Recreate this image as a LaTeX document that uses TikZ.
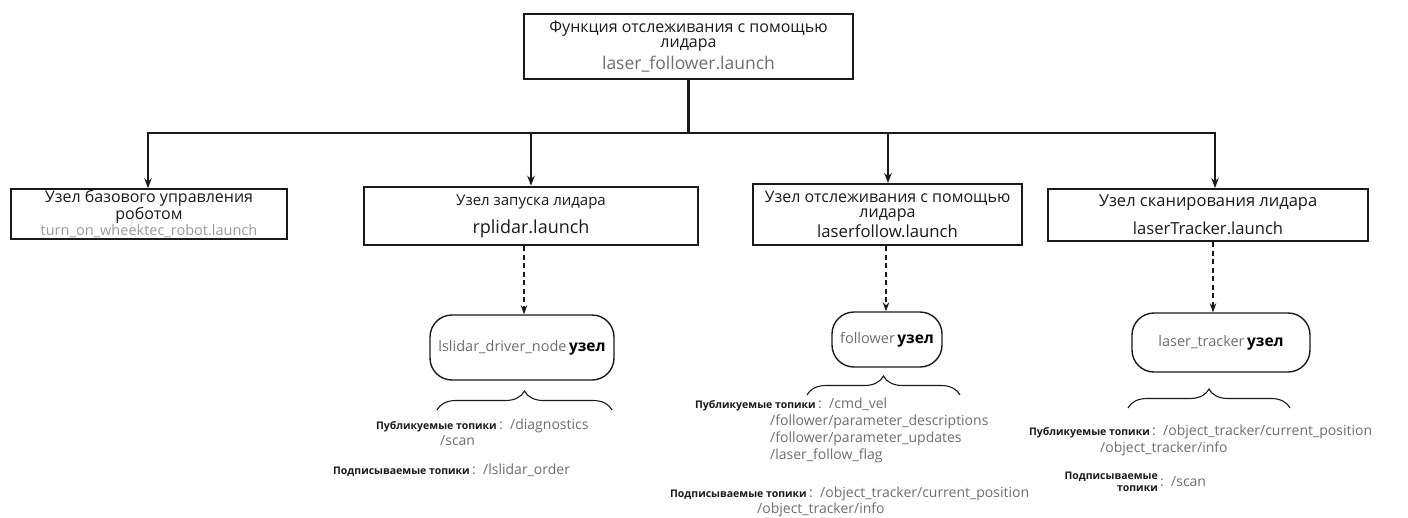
\documentclass[tikz,border=0pt]{standalone}
\usepackage{fontspec}
\setmainfont{Open Sans}
\usetikzlibrary{arrows.meta,decorations.pathreplacing}
\definecolor{ink}{HTML}{1A1A1A}
\definecolor{soft}{HTML}{6E6E6E}
\definecolor{pale}{HTML}{9A9A9A}
\begin{document}
\begin{tikzpicture}[x=1pt,y=-1pt,
  box/.style={draw=ink, line width=2pt, inner sep=0pt, align=center, text=ink,
    font=\fontsize{16}{15}\selectfont},
  pill/.style={draw=ink, line width=1.4pt, rounded corners=22pt, inner sep=0pt, align=center,
    font=\fontsize{14.5}{16}\selectfont},
  wire/.style={draw=ink, line width=2.2pt},
  feed/.style={wire, -{Stealth[length=10pt,width=7.5pt]}},
  spawn/.style={draw=ink, line width=1.3pt, dash pattern=on 5pt off 3.5pt, -{Stealth[length=9pt,width=6.5pt]}},
  curly/.style={draw=ink, line width=1.1pt, decorate, decoration={brace, amplitude=19pt}},
  tag/.style={inner sep=0pt, font=\fontsize{10.5}{12}\selectfont\bfseries, text=ink},
  val/.style={inner sep=0pt, font=\fontsize{14}{16}\selectfont, text=soft},
]
\useasboundingbox (0,0) rectangle (1408,517);

% launch file at the top
\node[box, minimum width=329pt, minimum height=65pt] (top) at (688.5,46.5)
  {Функция отслеживания с помощью\\лидара\\[4pt]{\color{soft}\fontsize{17.5}{16}\selectfont laser\_follower.launch}};

% launch files started by it
\node[box, line width=1.5pt, minimum width=276pt, minimum height=50pt] (b1) at (149,214)
  {Узел базового управления\\роботом\\[1pt]{\color{pale}\fontsize{14.5}{14}\selectfont turn\_on\_wheektec\_robot.launch}};
\node[box, line width=2.6pt, minimum width=334pt, minimum height=58pt, font=\fontsize{15}{15}\selectfont] (b2) at (531,216)
  {Узел запуска лидара\\[10pt]{\fontsize{18}{16}\selectfont rplidar.launch}};
\node[box, minimum width=269pt, minimum height=61pt] (b3) at (887.5,214.5)
  {Узел отслеживания с помощью\\лидара\\[2pt]{\fontsize{16.7}{16}\selectfont laserfollow.launch}};
\node[box, minimum width=320pt, minimum height=52pt, font=\fontsize{16.5}{15}\selectfont] (b4) at (1208,215)
  {Узел сканирования лидара\\[10pt]{\fontsize{16.6}{16}\selectfont laserTracker.launch}};

% bus from the top file to the four launch files
\coordinate (a1) at (148,133);
\coordinate (a2) at (531,133);
\coordinate (a3) at (888,133);
\coordinate (a4) at (1215,133);
\draw[wire] (top.south) -- (top.south |- a1);
\draw[wire, line cap=rect] (a1) -- (a4);
\draw[feed] (a1) -- (a1 |- b1.north);
\draw[feed] (a2) -- (a2 |- b2.north);
\draw[feed] (a3) -- (a3 |- b3.north);
\draw[feed] (a4) -- (a4 |- b4.north);

% ROS nodes
\node[pill, minimum width=184pt, minimum height=65pt] (n2) at (522,347.5)
  {{\color{soft}lslidar\_driver\_node}\,{\fontsize{15.5}{16}\selectfont\bfseries узел}};
\node[pill, minimum width=110pt, minimum height=55pt] (n3) at (887,339.5)
  {{\color{soft}follower}\,{\fontsize{15.5}{16}\selectfont\bfseries узел}};
\node[pill, minimum width=178pt, minimum height=59pt] (n4) at (1221,342.5)
  {{\color{soft}laser\_tracker}\,{\fontsize{15.5}{16}\selectfont\bfseries узел}};

\coordinate (d2) at (524,0);
\coordinate (d3) at (886,0);
\coordinate (d4) at (1213,0);
\draw[spawn] (d2 |- b2.south) -- (d2 |- n2.north);
\draw[spawn] (d3 |- b3.south) -- (d3 |- n3.north);
\draw[spawn] (d4 |- b4.south) -- (d4 |- n4.north);

% braces under the nodes
\draw[curly] (437,410) -- (612,410);
\draw[curly] (807,395) -- (960,395);
\draw[curly] (1128,408) -- (1290,408);

% topics of lslidar_driver_node
\node[tag, anchor=base east] (p2l) at (497,429) {Публикуемые топики};
\node[val, anchor=base west] (p2v) at (499,429) {:\ \ /diagnostics};
\node[val, anchor=base west] (p2c) at (440,445) {/scan};
\node[tag, anchor=base east] (s2l) at (470,474) {Подписываемые топики};
\node[val, anchor=base west] (s2v) at (472,474) {:\ \ /lslidar\_order};

% topics of follower
\node[tag, anchor=base east] (p3l) at (816,408) {Публикуемые топики};
\node[val, anchor=base west] (p3v) at (818,408) {:\ \ /cmd\_vel};
\node[val, anchor=base west] (p3a) at (770,425) {/follower/parameter\_descriptions};
\node[val, anchor=base west] (p3b) at (770,442) {/follower/parameter\_updates};
\node[val, anchor=base west] (p3c) at (770,459) {/laser\_follow\_flag};
\node[tag, anchor=base east] (s3l) at (807,497) {Подписываемые топики};
\node[val, anchor=base west] (s3v) at (809,497) {:\ \ /object\_tracker/current\_position};
\node[val, anchor=base west] (s3a) at (757,513) {/object\_tracker/info};

% topics of laser_tracker
\node[tag, anchor=base east] (p4l) at (1150,435) {Публикуемые топики};
\node[val, anchor=base west] (p4v) at (1152,435) {:\ \ /object\_tracker/current\_position};
\node[val, anchor=base west] (p4a) at (1100,452) {/object\_tracker/info};
\node[tag, anchor=east, align=right] (s4l) at (1158,482) {Подписываемые\\топики};
\node[val, anchor=base west] (s4v) at (1160,486) {:\ \ /scan};
\end{tikzpicture}
\end{document}
